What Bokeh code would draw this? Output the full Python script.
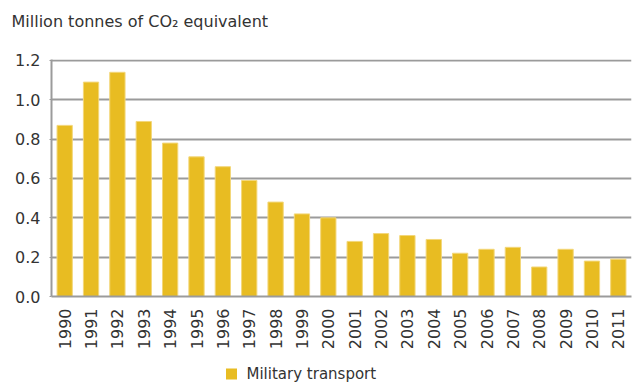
from bokeh.plotting import figure
from bokeh.layouts import column, row
from bokeh.models import (FactorRange, Range1d, FixedTicker,
                          ColumnDataSource, CustomJSTickFormatter)
from bokeh.core.properties import value
from bokeh.embed import file_html
from bokeh.resources import INLINE

years = [str(y) for y in range(1990, 2012)]
emissions = [0.87, 1.09, 1.14, 0.89, 0.78, 0.71, 0.66, 0.59, 0.48, 0.42, 0.40,
             0.28, 0.32, 0.31, 0.29, 0.22, 0.24, 0.25, 0.15, 0.24, 0.18, 0.19]
y_ticks = [0.0, 0.2, 0.4, 0.6, 0.8, 1.0, 1.2]
series_name = "Military transport"
unit_title = "Million tonnes of CO\u2082 equivalent"

FONT = "DejaVu Sans"
BAR = "#E8BC22"
BAR_EDGE = "#F3D77A"
GRID = "#9b9b9b"
TEXT = "#333333"
W = 633


def blank_strip(height):
    """A plain strip whose data units are pixels, for header/footer text."""
    f = figure(width=W, height=height, x_range=Range1d(0, W), y_range=Range1d(0, height),
               output_backend="svg", toolbar_location=None,
               min_border=0, min_border_left=0, min_border_right=0,
               min_border_top=0, min_border_bottom=0)
    f.axis.visible = False
    f.grid.grid_line_color = None
    f.outline_line_color = None
    f.background_fill_color = "white"
    f.border_fill_color = "white"
    return f


# header with the unit line
head = blank_strip(50)
head.text(x=[11], y=[29], text=[unit_title], text_font=value(FONT),
          text_font_size="16px", text_color=TEXT, text_baseline="alphabetic")

# main bar chart
src = ColumnDataSource(data=dict(year=years, value=emissions))
p = figure(
    width=W, height=302,
    x_range=FactorRange(*years, range_padding=0),
    y_range=Range1d(0, 1.205),
    output_backend="svg", toolbar_location=None,
    min_border_left=51, min_border_right=2, min_border_top=9, min_border_bottom=56,
)
p.vbar(x="year", top="value", width=0.58, source=src,
       fill_color=BAR, line_color=BAR_EDGE, line_width=1)

p.outline_line_color = None
p.background_fill_color = "white"
p.border_fill_color = "white"

p.xgrid.grid_line_color = None
p.ygrid.grid_line_color = GRID
p.ygrid.grid_line_width = 2

p.yaxis.ticker = FixedTicker(ticks=y_ticks)
p.yaxis.formatter = CustomJSTickFormatter(code="return tick.toFixed(1);")
p.yaxis.axis_line_color = GRID
p.yaxis.axis_line_width = 2
p.yaxis.major_tick_line_color = GRID
p.yaxis.major_tick_in = 0
p.yaxis.major_tick_out = 2
p.yaxis.minor_tick_line_color = None
p.yaxis.major_label_text_font = FONT
p.yaxis.major_label_text_font_size = "16px"
p.yaxis.major_label_text_color = TEXT
p.yaxis.major_label_standoff = 9

p.xaxis.axis_line_color = GRID
p.xaxis.axis_line_width = 2
p.xaxis.major_tick_line_color = None
p.xaxis.minor_tick_line_color = None
p.xaxis.major_label_orientation = 1.5708
p.xaxis.major_label_text_font = FONT
p.xaxis.major_label_text_font_size = "16px"
p.xaxis.major_label_text_color = TEXT
p.xaxis.major_label_standoff = 6

# footer legend: swatch + series name
foot = blank_strip(30)
foot.rect(x=[231], y=[8.5], width=11, height=11, fill_color=BAR, line_color=None)
foot.text(x=[246], y=[8.5], text=[series_name], text_font=value(FONT),
          text_font_size="15px", text_color=TEXT, text_baseline="middle")

layout = column(row(head), row(p), row(foot), spacing=0)
open("out.html", "w").write(file_html(layout, INLINE))
